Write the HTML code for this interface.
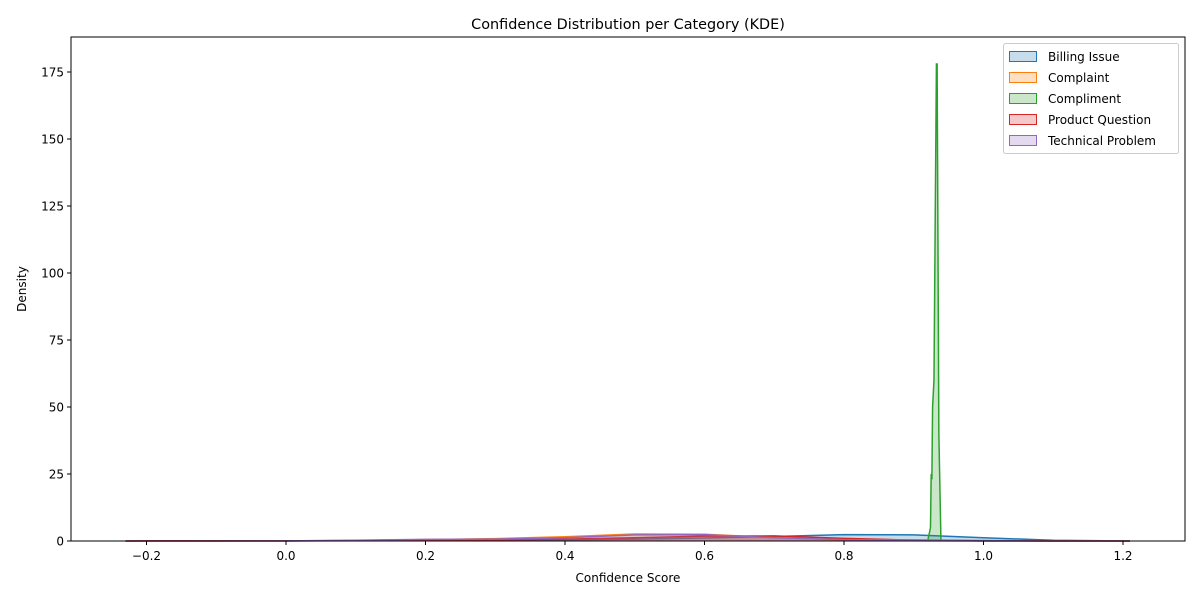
<!DOCTYPE html>
<html><head><meta charset="utf-8"><style>
body{margin:0;background:#fff;font-family:"DejaVu Sans","Liberation Sans",sans-serif;}
svg text{font-family:"DejaVu Sans","Liberation Sans",sans-serif;}
</style></head><body>
<svg id="chart" width="1200" height="600" xmlns="http://www.w3.org/2000/svg">
<rect width="1200" height="600" fill="#fff"/>
<g id="marks"></g>
<g id="axes"></g>
</svg>
<script>
const categories = ["Billing Issue","Complaint","Compliment","Product Question","Technical Problem"];
const gridX = [-0.23,-0.2,-0.1,0,0.1,0.2,0.3,0.4,0.5,0.6,0.7,0.8,0.9,1.0,1.1,1.21];
const billing = [0,0.02,0.03,0.05,0.1,0.2,0.3,0.45,0.7,1.1,1.7,2.4,2.3,1.2,0.3,0];
const complaint = [0,0,0,0.05,0.2,0.5,0.9,1.6,2.6,2.5,1.3,0.4,0.1,0,0,0];
const product = [0,0.1,0.05,0.05,0.15,0.3,0.4,0.7,1.2,1.8,1.9,1.0,0.3,0.05,0,0];
const technical = [0,0,0,0.05,0.3,0.6,0.7,1.2,2.3,2.4,1.2,0.5,0.4,0.2,0,0];
const complimentX = [0.920,0.924,0.925,0.926,0.927,0.929,0.9325,0.9335,0.936,0.939];
const compliment = [0,5,25,23,50,60,178,178,40,0];
const xTicks = [-0.2,0.0,0.2,0.4,0.6,0.8,1.0,1.2];
const xTickLabels = ["−0.2","0.0","0.2","0.4","0.6","0.8","1.0","1.2"];
const yTicks = [0,25,50,75,100,125,150,175];
const colors = ["#1f77b4","#ff7f0e","#2ca02c","#d62728","#9467bd"];

const L=71,R=1185,T=37,B=541;
const xs = v => 286 + (v-0)*(1123-286)/1.2;
const ys = v => 541 - v*(541-72)/175;
const NS="http://www.w3.org/2000/svg";
const marks=document.getElementById('marks'), axes=document.getElementById('axes');
function mk(tag,attrs,parent){const e=document.createElementNS(NS,tag);for(const k in attrs)e.setAttribute(k,attrs[k]);parent.appendChild(e);return e;}

const series=[[gridX,billing],[gridX,complaint],[complimentX,compliment],[gridX,product],[gridX,technical]];
series.forEach((s,i)=>{
  const [xv,yv]=s;
  let d=xv.map((x,j)=>(j?'L':'M')+xs(x).toFixed(2)+','+ys(yv[j]).toFixed(2)).join(' ');
  const area=mk('path',{d:d+' L'+xs(xv[xv.length-1]).toFixed(2)+','+B+' L'+xs(xv[0]).toFixed(2)+','+B+' Z',fill:colors[i],'fill-opacity':0.25,stroke:'none'},marks);
  
  
  const line=mk('path',{d:d,fill:'none',stroke:colors[i],'stroke-width':1.5},marks);
  
  
});

const frame=mk('rect',{x:L,y:T,width:R-L,height:B-T,fill:'none',stroke:'#000','stroke-width':1},axes);


xTicks.forEach((v,i)=>{
  const x=xs(v);
  mk('line',{x1:x,x2:x,y1:B,y2:B+4,stroke:'#000'},axes);
  const t=mk('text',{x:x,y:B+19,'text-anchor':'middle','font-size':12},axes);
  t.textContent=xTickLabels[i];
  
  
});
yTicks.forEach(v=>{
  const y=ys(v);
  mk('line',{x1:L-4,x2:L,y1:y,y2:y,stroke:'#000'},axes);
  const t=mk('text',{x:L-7,y:y+4.5,'text-anchor':'end','font-size':12},axes);
  t.textContent=String(v);
  
  
});
const xt=mk('text',{x:628,y:582,'text-anchor':'middle','font-size':12},axes);
xt.textContent='Confidence Score';


const yt=mk('text',{x:26,y:289,'text-anchor':'middle','font-size':12,transform:'rotate(-90 26 289)'},axes);
yt.textContent='Density';


const tt=mk('text',{x:628,y:29,'text-anchor':'middle','font-size':14.4},axes);
tt.textContent='Confidence Distribution per Category (KDE)';



const lg=mk('g',{},axes);


mk('rect',{x:1003.5,y:43.5,width:175,height:110,rx:2,fill:'#fff','fill-opacity':0.8,stroke:'#ccc'},lg);
categories.forEach((c,i)=>{
  const y=51+i*21;
  const g=mk('g',{},lg);
  
  
  mk('rect',{x:1009.5,y:y+0.5,width:27,height:10,fill:'#fff',stroke:'none'},g);
  mk('rect',{x:1009.5,y:y+0.5,width:27,height:10,fill:colors[i],'fill-opacity':0.25,stroke:colors[i]},g);
  const t=mk('text',{x:1048,y:y+10,'font-size':12},g);
  t.textContent=c;
});
</script>
</body></html>
